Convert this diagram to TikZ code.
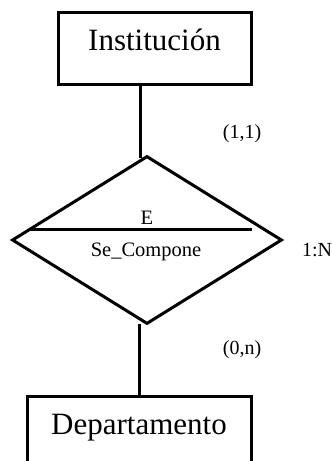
\documentclass[tikz,border=0pt]{standalone}
\usepackage{fontspec}
\setmainfont{Liberation Serif}
\usetikzlibrary{shapes.geometric}
\begin{document}
\begin{tikzpicture}[x=1pt,y=-1pt,
  line width=3pt,
  entity/.style={draw, rectangle, inner sep=0pt,
    font=\fontsize{31}{36}\selectfont, text height=0.7em, text depth=0.25em},
  relation/.style={draw, diamond, inner sep=0pt, minimum width=270pt, minimum height=168pt},
  small/.style={font=\fontsize{20.5}{24}\selectfont, anchor=base, inner sep=0pt},
  card/.style={font=\fontsize{20}{24}\selectfont, anchor=base, inner sep=0pt}]
  \path[use as bounding box, clip] (0,0) rectangle (332,461);
  \fill[white] (0,0) rectangle (332,461);

  % entities and relationship
  \node[entity, minimum width=193pt, minimum height=72pt] (inst) at (154.5,48) {Institución};
  \node[entity, minimum width=224pt, minimum height=72pt] (dept) at (139,432) {Departamento};
  \node[relation] (rel) at (147,240) {};

  % divider inside the relationship (canvas shifts: positive y is up)
  \coordinate (divL) at ([shift={(-118pt,10.5pt)}]rel.center);
  \coordinate (divM) at ([shift={(48pt,10.5pt)}]rel.center);
  \coordinate (divR) at ([shift={(105pt,10.5pt)}]rel.center);
  \draw (divL) -- (divR);
  \draw[line width=3.8pt] (divM) -- (divR);

  \node[small] (lblE) at (147,224) {E};
  \node[small] (lblRel) at (146,256) {Se\_Compone};

  % connectors
  \coordinate (topEnd) at ([shift={(-7pt,-3pt)}]rel.north);
  \draw ([xshift=-14.5pt]inst.south) -- (topEnd);
  \coordinate (botEnd) at (dept.north |- rel.south);
  \draw (dept.north) -- ([yshift=2pt]botEnd);

  % cardinalities
  \node[card] (c11) at (242,138) {(1,1)};
  \node[card] (c0n) at (242,354) {(0,n)};
  \node[card] (ratio) at (317,256) {1:N};
\end{tikzpicture}
\end{document}
